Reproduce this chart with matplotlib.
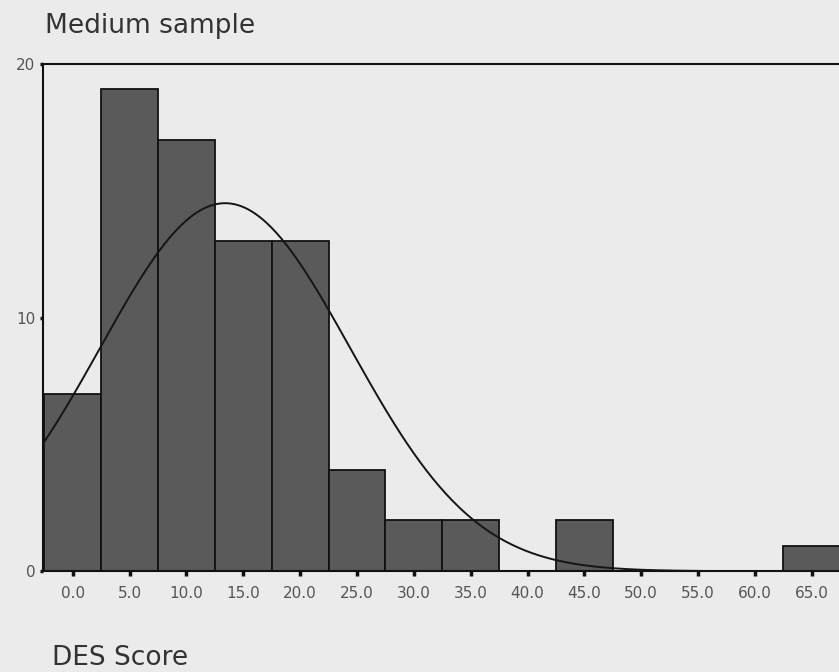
import numpy as np
import matplotlib
matplotlib.use("Agg")
import matplotlib.pyplot as plt

bin_centers = [0.0, 5.0, 10.0, 15.0, 20.0, 25.0, 30.0, 35.0, 40.0, 45.0, 50.0, 55.0, 60.0, 65.0]
counts = [7, 19, 17, 13, 13, 4, 2, 2, 0, 2, 0, 0, 0, 1]
tick_labels = ["0.0", "5.0", "10.0", "15.0", "20.0", "25.0", "30.0", "35.0",
               "40.0", "45.0", "50.0", "55.0", "60.0", "65.0"]
y_ticks = [0, 10, 20]
fit_mean = 13.4
fit_sd = 11.0
bin_width = 5.0

bg = "#ebebeb"
fig = plt.figure(figsize=(8.39, 6.72), dpi=100, facecolor=bg)
ax = fig.add_axes([0.0515, 0.150, 0.9485, 0.755])
ax.set_facecolor(bg)

ax.bar(bin_centers, counts, width=bin_width, color="#5a5a5a", edgecolor="#111111",
       linewidth=1.3, zorder=2)

n = sum(counts)
xs = np.linspace(-2.6, 67.5, 500)
ys = n * bin_width / (fit_sd * np.sqrt(2 * np.pi)) * np.exp(-0.5 * ((xs - fit_mean) / fit_sd) ** 2)
ax.plot(xs, ys, color="#151515", linewidth=1.4, zorder=3)

ax.set_xlim(-2.6, 67.4)
ax.set_ylim(0, 20)
ax.set_xticks(bin_centers)
ax.set_xticklabels(tick_labels, fontsize=11, color="#555555")
ax.set_yticks(y_ticks)
ax.set_yticklabels([str(v) for v in y_ticks], fontsize=11, color="#555555")
ax.tick_params(axis="x", direction="out", length=3.5, width=2.5, color="#111111", pad=7)
ax.tick_params(axis="y", direction="out", length=2.5, width=2.5, color="#111111", pad=3)

for side in ["left", "bottom", "top"]:
    ax.spines[side].set_color("#111111")
    ax.spines[side].set_linewidth(1.5)
ax.spines["right"].set_visible(False)

fig.text(0.0536, 0.951, "Medium sample", fontsize=19, color="#333333", ha="left", va="baseline")
fig.text(0.062, 0.0104, "DES Score", fontsize=19, color="#333333", ha="left", va="baseline")

fig.savefig("out.png", dpi=100, facecolor=bg)
